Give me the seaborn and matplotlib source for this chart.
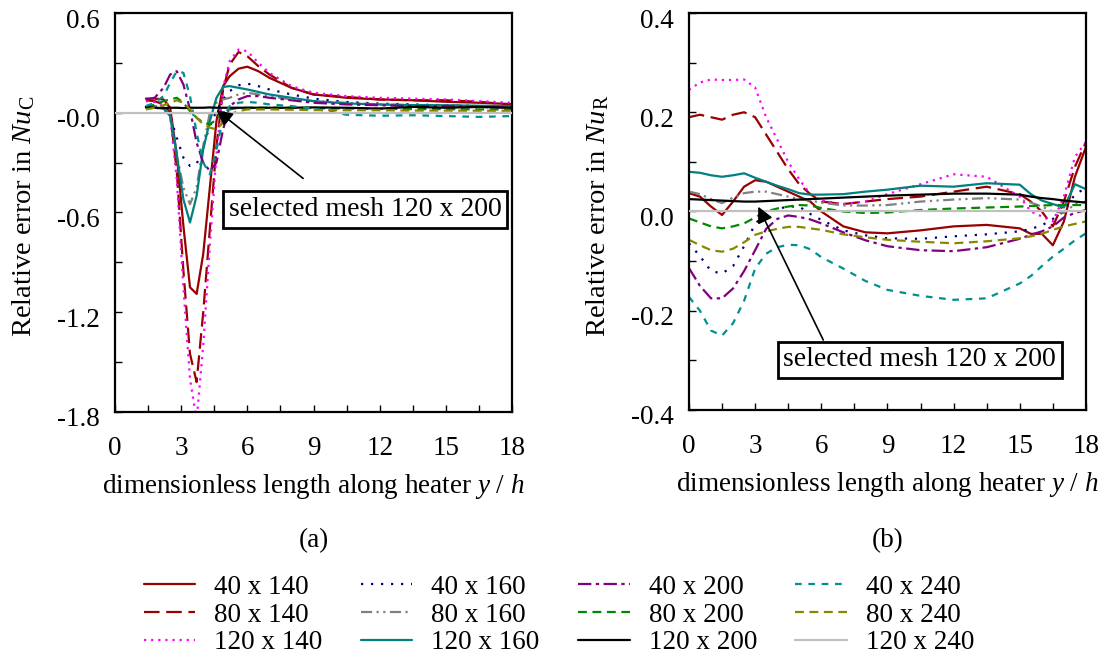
import matplotlib
matplotlib.use("Agg")
import matplotlib.pyplot as plt
import matplotlib.transforms as mtrans
import seaborn as sns
from matplotlib.ticker import MultipleLocator
from matplotlib.lines import Line2D

# ---------------- data ----------------
mesh_labels = ["40 x 140", "80 x 140", "120 x 140",
               "40 x 160", "80 x 160", "120 x 160",
               "40 x 200", "80 x 200", "120 x 200",
               "40 x 240", "80 x 240", "120 x 240"]

# panel (a): relative error in Nu_C
x_c = [1.4, 1.8, 2.2, 2.5, 2.8, 3.1, 3.4, 3.7, 4.0, 4.3, 4.6, 4.9, 5.2, 5.6,
       6.0, 6.5, 7.0, 8.0, 9.0, 10.5, 12.0, 13.5, 15.0, 16.5, 18.0]
c_40x140 = [0.085, 0.085, 0.08, 0.03, -0.25, -0.68, -1.05, -1.09, -0.85, -0.45, -0.05, 0.16, 0.22, 0.265,
            0.277, 0.25, 0.21, 0.15, 0.11, 0.09, 0.08, 0.075, 0.066, 0.06, 0.052]
c_80x140 = [0.075, 0.07, 0.05, 0.0, -0.35, -0.95, -1.45, -1.62, -1.2, -0.7, -0.2, 0.14, 0.29, 0.365,
            0.34, 0.28, 0.23, 0.15, 0.11, 0.095, 0.08, 0.075, 0.075, 0.066, 0.048]
c_120x140 = [0.07, 0.065, 0.05, -0.02, -0.4, -1.05, -1.6, -1.85, -1.4, -0.8, -0.25, 0.15, 0.31, 0.38,
             0.37, 0.3, 0.24, 0.16, 0.12, 0.1, 0.09, 0.085, 0.08, 0.07, 0.06]
c_40x160 = [0.03, 0.03, 0.025, -0.02, -0.15, -0.27, -0.32, -0.31, -0.2, -0.08, 0.01, 0.08, 0.13, 0.165,
            0.175, 0.16, 0.14, 0.11, 0.085, 0.065, 0.055, 0.05, 0.045, 0.04, 0.04]
c_80x160 = [0.04, 0.04, 0.035, -0.02, -0.25, -0.45, -0.55, -0.45, -0.2, 0.0, 0.06, 0.08, 0.09, 0.11,
            0.12, 0.11, 0.1, 0.08, 0.07, 0.06, 0.05, 0.045, 0.045, 0.04, 0.04]
c_120x160 = [0.03, 0.03, 0.025, -0.02, -0.25, -0.52, -0.66, -0.5, -0.22, -0.05, 0.09, 0.155, 0.16, 0.15,
             0.14, 0.125, 0.11, 0.09, 0.07, 0.056, 0.05, 0.046, 0.045, 0.042, 0.04]
c_40x200 = [0.08, 0.09, 0.15, 0.23, 0.25, 0.17, 0.02, -0.18, -0.3, -0.35, -0.3, -0.1, 0.04, 0.08,
            0.1, 0.1, 0.09, 0.075, 0.06, 0.05, 0.045, 0.04, 0.04, 0.035, 0.03]
c_80x200 = [0.03, 0.05, 0.07, 0.08, 0.09, 0.06, 0.01, -0.03, -0.06, -0.07, -0.04, 0.0, 0.02, 0.03,
            0.03, 0.03, 0.03, 0.03, 0.028, 0.025, 0.025, 0.022, 0.022, 0.02, 0.02]
c_120x200 = [0.035, 0.03, 0.028, 0.03, 0.03, 0.028, 0.03, 0.03, 0.03, 0.032, 0.03, 0.03, 0.03, 0.03,
             0.03, 0.03, 0.03, 0.03, 0.032, 0.03, 0.025, 0.035, 0.03, 0.035, 0.03]
c_40x240 = [0.04, 0.06, 0.1, 0.18, 0.25, 0.24, 0.1, -0.12, -0.3, -0.37, -0.22, -0.03, 0.04, 0.06,
            0.065, 0.06, 0.05, 0.04, 0.025, -0.012, -0.018, -0.015, -0.02, -0.025, -0.02]
c_80x240 = [0.02, 0.03, 0.045, 0.06, 0.075, 0.06, 0.02, -0.03, -0.07, -0.09, -0.1, -0.06, -0.01, 0.01,
            0.02, 0.02, 0.02, 0.018, 0.016, 0.015, 0.015, 0.013, 0.013, 0.012, 0.012]
x_ref = [0.0, 18.0]
c_120x240 = [0.0, 0.0]

# panel (b): relative error in Nu_R
x_r = [0.0, 0.5, 1.0, 1.5, 2.0, 2.5, 3.0, 3.5, 4.0, 4.5, 5.0, 5.5, 6.0, 7.0, 8.0, 9.0,
       10.5, 12.0, 13.5, 15.0, 15.5, 16.0, 16.5, 17.0, 17.5, 18.0]
r_40x140 = [0.037, 0.03, 0.01, -0.007, 0.02, 0.05, 0.063, 0.06, 0.05, 0.04, 0.03, 0.02, 0.0, -0.03, -0.042, -0.044,
            -0.038, -0.03, -0.027, -0.034, -0.045, -0.045, -0.068, -0.02, 0.07, 0.13]
r_80x140 = [0.19, 0.195, 0.19, 0.185, 0.195, 0.2, 0.19, 0.155, 0.12, 0.085, 0.055, 0.035, 0.02, 0.015, 0.02, 0.025,
            0.03, 0.04, 0.05, 0.035, 0.02, 0.0, -0.03, 0.02, 0.09, 0.14]
r_120x140 = [0.245, 0.26, 0.266, 0.265, 0.265, 0.266, 0.25, 0.19, 0.145, 0.1, 0.065, 0.035, 0.022, 0.015, 0.02, 0.035,
             0.055, 0.075, 0.07, 0.03, 0.0, -0.01, -0.02, 0.03, 0.11, 0.14]
r_40x160 = [-0.064, -0.09, -0.12, -0.125, -0.11, -0.07, -0.025, -0.002, 0.005, 0.01, 0.01, -0.005, -0.017, -0.038, -0.048, -0.054,
            -0.055, -0.05, -0.046, -0.04, -0.035, -0.028, -0.015, 0.0, 0.035, 0.047]
r_80x160 = [0.04, 0.035, 0.025, 0.017, 0.028, 0.037, 0.04, 0.04, 0.035, 0.03, 0.025, 0.022, 0.018, 0.012, 0.012, 0.013,
            0.02, 0.024, 0.027, 0.024, 0.018, 0.01, 0.0, -0.003, 0.015, 0.02]
r_120x160 = [0.08, 0.078, 0.073, 0.07, 0.073, 0.077, 0.068, 0.06, 0.052, 0.045, 0.037, 0.034, 0.034, 0.035, 0.04, 0.044,
             0.052, 0.05, 0.057, 0.054, 0.035, 0.022, 0.015, 0.008, 0.055, 0.045]
r_40x200 = [-0.114, -0.15, -0.175, -0.175, -0.155, -0.12, -0.078, -0.035, -0.015, -0.008, -0.011, -0.016, -0.024, -0.042, -0.058, -0.07,
            -0.078, -0.08, -0.072, -0.055, -0.047, -0.04, -0.03, -0.012, -0.003, 0.003]
r_80x200 = [-0.014, -0.022, -0.03, -0.034, -0.03, -0.024, -0.012, 0.0, 0.006, 0.01, 0.013, 0.012, 0.007, 0.0, -0.003, -0.002,
            0.003, 0.006, 0.008, 0.01, 0.011, 0.012, 0.013, 0.013, 0.013, 0.013]
r_120x200 = [0.025, 0.024, 0.023, 0.022, 0.021, 0.02, 0.02, 0.021, 0.022, 0.023, 0.024, 0.025, 0.026, 0.028, 0.03, 0.032,
             0.034, 0.036, 0.036, 0.034, 0.03, 0.027, 0.025, 0.022, 0.02, 0.018]
r_40x240 = [-0.172, -0.2, -0.24, -0.25, -0.225, -0.18, -0.115, -0.085, -0.072, -0.067, -0.068, -0.076, -0.092, -0.115, -0.14, -0.158,
            -0.17, -0.178, -0.175, -0.145, -0.13, -0.11, -0.091, -0.075, -0.058, -0.044]
r_80x240 = [-0.057, -0.068, -0.078, -0.081, -0.075, -0.062, -0.047, -0.04, -0.035, -0.031, -0.031, -0.034, -0.037, -0.046, -0.052, -0.057,
            -0.061, -0.064, -0.06, -0.054, -0.05, -0.045, -0.037, -0.03, -0.025, -0.02]
r_120x240 = [0.0, 0.0]

xticks = [0, 3, 6, 9, 12, 15, 18]
xtick_labels = ["0", "3", "6", "9", "12", "15", "18"]
yticks_c = [0.6, 0.0, -0.6, -1.2, -1.8]
ytick_labels_c = ["0.6", "-0.0", "-0.6", "-1.2", "-1.8"]
yticks_r = [0.4, 0.2, 0.0, -0.2, -0.4]
ytick_labels_r = ["0.4", "0.2", "0.0", "-0.2", "-0.4"]

# ---------------- styles ----------------
colors = ["#990000", "#990000", "#ff00ff",
          "#000080", "#808080", "#008080",
          "#800080", "#008800", "#000000",
          "#009090", "#888800", "#c0c0c0"]
styles = ["-", (0, (7, 3)), (0, (1, 2.2)),
          (0, (1, 3.5)), (0, (5, 2, 1, 2, 1, 2)), "-",
          (0, (6, 2, 1.5, 2)), (0, (4, 2.5)), "-",
          (0, (3, 3)), (0, (4, 2.5)), "-"]

sns.set_theme(style="white")
plt.rcParams["font.family"] = ["Liberation Serif", "DejaVu Serif"]
plt.rcParams["mathtext.fontset"] = "custom"
plt.rcParams["mathtext.rm"] = "Liberation Serif"
plt.rcParams["mathtext.it"] = "Liberation Serif:italic"
plt.rcParams["axes.unicode_minus"] = False
for key in ["text.color", "axes.labelcolor", "xtick.color", "ytick.color", "axes.edgecolor"]:
    plt.rcParams[key] = "black"
FS = 19.5

fig = plt.figure(figsize=(11.08, 6.60), dpi=100)
ax1 = fig.add_axes([0.1038, 0.3758, 0.3583, 0.6045])
ax2 = fig.add_axes([0.6218, 0.3788, 0.3583, 0.6015])

c_series = [c_40x140, c_80x140, c_120x140, c_40x160, c_80x160, c_120x160,
            c_40x200, c_80x200, c_120x200, c_40x240, c_80x240, c_120x240]
r_series = [r_40x140, r_80x140, r_120x140, r_40x160, r_80x160, r_120x160,
            r_40x200, r_80x200, r_120x200, r_40x240, r_80x240, r_120x240]

for ax, xs, series in [(ax1, x_c, c_series), (ax2, x_r, r_series)]:
    for i, ys in enumerate(series):
        xx = x_ref if len(ys) == 2 else xs
        sns.lineplot(x=xx, y=ys, ax=ax, color=colors[i], linestyle=styles[i],
                     linewidth=1.6, legend=False, sort=False, estimator=None,
                     zorder=3 if i == 11 else 2)

ylab_shift = mtrans.ScaledTranslation(0, -5 / 100, fig.dpi_scale_trans)

def style_axis(ax, yticks, ylabels, ylim, yminor, ylabel):
    ax.set_xlim(0, 18)
    ax.set_ylim(*ylim)
    ax.set_xticks(xticks, xtick_labels)
    ax.set_yticks(yticks, ylabels)
    ax.xaxis.set_minor_locator(MultipleLocator(1.5))
    ax.yaxis.set_minor_locator(MultipleLocator(yminor))
    ax.tick_params(which="both", direction="in", length=5, width=1, color="black",
                   bottom=True, left=True, top=False, right=False)
    ax.tick_params(axis="x", which="major", pad=17, labelsize=FS, labelcolor="black")
    ax.tick_params(axis="y", which="major", pad=11, labelsize=FS, labelcolor="black")
    for lab in ax.get_yticklabels():
        lab.set_transform(lab.get_transform() + ylab_shift)
    for sp in ax.spines.values():
        sp.set_color("black")
        sp.set_linewidth(1.6)
    ax.set_xlabel(r"dimensionless length along heater $\mathit{y}$ / $\mathit{h}$",
                  fontsize=FS, color="black")
    ax.set_ylabel(ylabel, fontsize=20.5, color="black")
    ax.xaxis.set_label_coords(0.5, -0.15)
    ax.yaxis.set_label_coords(-0.197, 0.49)
    ax.grid(False)

style_axis(ax1, yticks_c, ytick_labels_c, (-1.8, 0.6), 0.3,
           r"Relative error in $\mathit{Nu}_{\mathrm{C}}$")
style_axis(ax2, yticks_r, ytick_labels_r, (-0.4, 0.4), 0.1,
           r"Relative error in $\mathit{Nu}_{\mathrm{R}}$")

arrow_kw = dict(arrowstyle="-|>", color="black", lw=1.2, shrinkA=0, shrinkB=0,
                mutation_scale=24)
box_kw = dict(boxstyle="square,pad=0.2", fc="white", ec="black", lw=2)
ax1.annotate("", xy=(4.6, 0.016), xytext=(8.53, -0.395), arrowprops=arrow_kw, zorder=5)
ax1.text(11.33, -0.582, "selected mesh 120 x 200", ha="center", va="center",
         fontsize=20, color="black", bbox=box_kw, zorder=6)
ax2.annotate("", xy=(3.14, 0.0097), xytext=(6.09, -0.259), arrowprops=arrow_kw, zorder=5)
ax2.text(10.47, -0.299, "selected mesh 120 x 200", ha="center", va="center",
         fontsize=20, color="black", bbox=box_kw, zorder=6)

fig.text(0.283, 0.181, "(a)", ha="center", va="center", fontsize=FS)
fig.text(0.801, 0.181, "(b)", ha="center", va="center", fontsize=FS)

handles = [Line2D([], [], color=colors[i], linestyle=styles[i], linewidth=1.6)
           for i in range(12)]
fig.legend(handles, mesh_labels, loc="center", bbox_to_anchor=(0.5045, 0.068),
           ncol=4, frameon=False, fontsize=FS, handlelength=1.9, handletextpad=0.7,
           columnspacing=1.42, labelspacing=0.1, borderpad=0.0)

fig.savefig("out.png", dpi=100)
